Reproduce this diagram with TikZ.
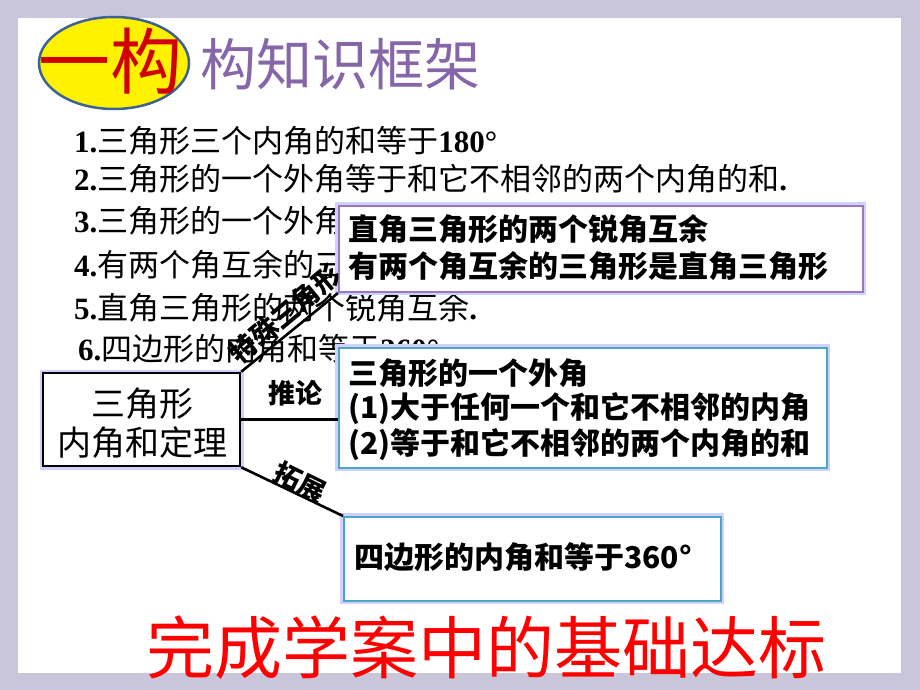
\documentclass[tikz,border=0pt]{standalone}
\usepackage{fontspec}
\newfontfamily\cjk{Noto Sans CJK SC}
\newfontfamily\lat{Liberation Serif}
\usetikzlibrary{shapes.geometric}
\tikzset{
  x=1pt,y=-1pt,
  item/.style={anchor=west,inner sep=0pt,font=\cjk\fontsize{31}{36}\selectfont},
  infobox/.style={draw=#1,line width=2pt,fill=white,anchor=north west,inner sep=0pt},
  glow/.style={draw=blue!18,line width=7pt},
  boxtext/.style={anchor=west,inner sep=0pt,font=\cjk\bfseries\fontsize{30}{34}\selectfont},
  branch/.style={line width=2.6pt,black},
  blabel/.style={inner sep=0pt,font=\cjk\bfseries\fontsize{27}{30}\selectfont},
}
\definecolor{bgc}{HTML}{C9C6DB}
\definecolor{elb}{HTML}{3D6392}
\definecolor{tred}{HTML}{D00000}
\definecolor{tpur}{HTML}{8566A8}
\definecolor{pbox}{HTML}{9A78BE}
\definecolor{cbox}{HTML}{4BA6C6}
\begin{document}
\begin{tikzpicture}
\useasboundingbox (0,0) rectangle (920,690);
\fill[bgc] (0,0) rectangle (920,690);
\fill[white] (18,18) rectangle (901,673);
% title
\node[ellipse,draw=elb,line width=2.5pt,fill=yellow,minimum width=150pt,minimum height=92pt,inner sep=0pt] (ell) at (114,63) {};
\node[text=tred,inner sep=0pt,font=\cjk\fontsize{72}{72}\selectfont] (t1) at (110,61) {一构};
\node[text=tpur,anchor=west,inner sep=0pt,font=\cjk\fontsize{56}{56}\selectfont] (t2) at (200,64) {构知识框架};
% list
\node[item] (i1) at (74,141) {{\lat\bfseries 1.}三角形三个内角的和等于{\lat\bfseries 180°}};
\node[item] (i2) at (74,179) {{\lat\bfseries 2.}三角形的一个外角等于和它不相邻的两个内角的和{\lat\bfseries .}};
\node[item] (i3) at (74,221) {{\lat\bfseries 3.}三角形的一个外角大于任何一个和它不相邻的内角{\lat\bfseries .}};
\node[item] (i4) at (74,265) {{\lat\bfseries 4.}有两个角互余的三角形是直角三角形{\lat\bfseries .}};
\node[item] (i5) at (74,308) {{\lat\bfseries 5.}直角三角形的两个锐角互余{\lat\bfseries .}};
\node[item] (i6) at (78,349) {{\lat\bfseries 6.}四边形的内角和等于{\lat\bfseries 360°}{\lat\bfseries .}};
% boxes
\draw[glow] (338,205) rectangle (862,291);
\node[infobox=pbox,minimum width=524pt,minimum height=86pt] (b1) at (338,205) {};
\node[boxtext] (b1a) at (348,229) {直角三角形的两个锐角互余};
\node[boxtext] (b1b) at (348,266) {有两个角互余的三角形是直角三角形};
\draw[glow] (338,347) rectangle (826,467);
\node[infobox=cbox,minimum width=488pt,minimum height=120pt] (b2) at (338,347) {};
\node[boxtext] (b2a) at (348,373) {三角形的一个外角};
\node[boxtext] (b2b) at (348,409) {(1)大于任何一个和它不相邻的内角};
\node[boxtext] (b2c) at (348,445) {(2)等于和它不相邻的两个内角的和};
\draw[glow] (343,516) rectangle (720,600);
\node[infobox=cbox,minimum width=377pt,minimum height=84pt] (b3) at (343,516) {};
\node[boxtext] (b3a) at (354,557) {四边形的内角和等于360°};
% main box
\draw[glow] (43,373) rectangle (240,466);
\node[draw=black,line width=2.6pt,fill=white,minimum width=197pt,minimum height=93pt,inner sep=0pt] (m) at (141.5,419.5) {};
\node[inner sep=0pt,font=\cjk\fontsize{34}{40}\selectfont] (m1) at (142,404) {三角形};
\node[inner sep=0pt,font=\cjk\fontsize{34}{40}\selectfont] (m2) at (142,443) {内角和定理};
% branches
\draw[branch] (m.north east) -- (b1.south west);
\draw[branch] (m.east) -- (b2.west |- m.east);
\draw[branch] (m.south east) -- (b3.north west);
\node[blabel,rotate=39.8] (l1) at (285,314) {特殊三角形};
\node[blabel] (l2) at (295,393) {推论};
\node[blabel,rotate=-26] (l3) at (300,482) {拓展};
% bottom
\node[text=red,inner sep=0pt,font=\cjk\fontsize{68}{68}\selectfont] (bt) at (486,648) {完成学案中的基础达标};
\end{tikzpicture}
\end{document}
